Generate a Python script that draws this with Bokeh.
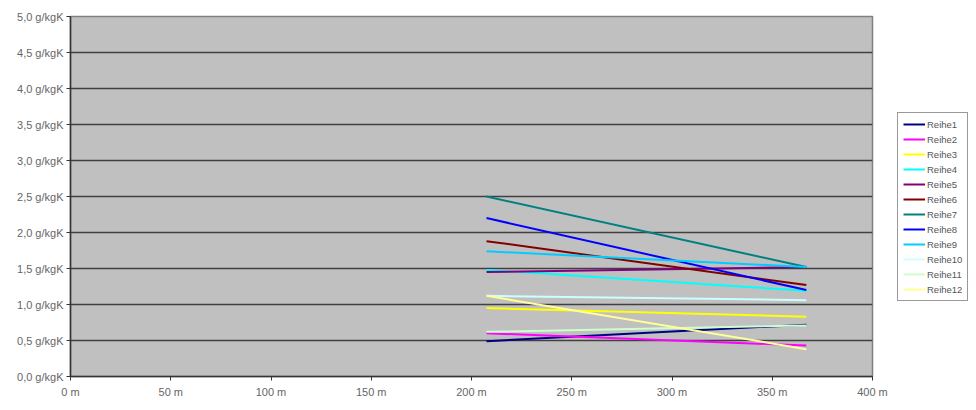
from bokeh.plotting import figure
from bokeh.models import FixedTicker, Legend, LegendItem, Label
from bokeh.layouts import row
from bokeh.embed import file_html
from bokeh.resources import INLINE

# Data
x_pos = [207.5, 367.0]
series_names = ["Reihe1", "Reihe2", "Reihe3", "Reihe4", "Reihe5", "Reihe6",
                "Reihe7", "Reihe8", "Reihe9", "Reihe10", "Reihe11", "Reihe12"]
reihe1 = [0.49, 0.72]
reihe2 = [0.60, 0.43]
reihe3 = [0.95, 0.83]
reihe4 = [1.48, 1.19]
reihe5 = [1.45, 1.52]
reihe6 = [1.88, 1.27]
reihe7 = [2.50, 1.52]
reihe8 = [2.20, 1.20]
reihe9 = [1.74, 1.52]
reihe10 = [1.12, 1.06]
reihe11 = [0.62, 0.71]
reihe12 = [1.12, 0.38]
series_values = [reihe1, reihe2, reihe3, reihe4, reihe5, reihe6,
                 reihe7, reihe8, reihe9, reihe10, reihe11, reihe12]
colors = ["#000080", "#FF00FF", "#FFFF00", "#00FFFF", "#800080", "#800000",
          "#008080", "#0000FF", "#00CCFF", "#CCFFFF", "#CCFFCC", "#FFFF99"]

y_ticks = [0.0, 0.5, 1.0, 1.5, 2.0, 2.5, 3.0, 3.5, 4.0, 4.5, 5.0]
y_tick_labels = ["0,0 g/kgK", "0,5 g/kgK", "1,0 g/kgK", "1,5 g/kgK", "2,0 g/kgK",
                 "2,5 g/kgK", "3,0 g/kgK", "3,5 g/kgK", "4,0 g/kgK", "4,5 g/kgK",
                 "5,0 g/kgK"]
x_ticks = [0, 50, 100, 150, 200, 250, 300, 350, 400]
x_tick_labels = ["0 m", "50 m", "100 m", "150 m", "200 m", "250 m", "300 m",
                 "350 m", "400 m"]

font = "Liberation Sans"

p = figure(frame_width=802, frame_height=360, x_range=(0, 400), y_range=(0, 5),
           output_backend="svg", toolbar_location=None,
           min_border_left=70, min_border_top=16, min_border_bottom=34,
           min_border_right=20)
p.background_fill_color = "#C0C0C0"
p.border_fill_color = "white"
p.outline_line_color = "#808080"
p.outline_line_width = 1.5

for ax in (p.xaxis[0], p.yaxis[0]):
    ax.axis_line_color = "#333333"
    ax.axis_line_width = 1.5
    ax.major_tick_line_color = "#333333"
    ax.minor_tick_line_color = None
    ax.major_label_text_font = font
    ax.major_label_text_font_size = "11px"
    ax.major_label_text_color = "#666666"

p.yaxis.ticker = FixedTicker(ticks=y_ticks)
p.yaxis.major_label_overrides = {t: l for t, l in zip(y_ticks, y_tick_labels)}
p.yaxis.major_tick_out = 4
p.yaxis.major_tick_in = 0
p.yaxis.major_label_standoff = 3

p.xaxis.ticker = FixedTicker(ticks=x_ticks)
p.xaxis.major_label_overrides = {t: l for t, l in zip(x_ticks, x_tick_labels)}
p.xaxis.major_tick_out = 4
p.xaxis.major_tick_in = 0
p.xaxis.major_label_standoff = 5

p.xgrid.grid_line_color = None
p.ygrid.ticker = FixedTicker(ticks=y_ticks)
p.ygrid.grid_line_color = "#404040"
p.ygrid.grid_line_width = 1.5

for name, vals, c in zip(series_names, series_values, colors):
    p.line(x_pos, vals, line_color=c, line_width=2)

p.add_layout(Label(x=795, y=-31, x_units="screen", y_units="screen",
                   text="3", text_font=font, text_font_size="7px",
                   text_color="#555555"))

# Legend panel
lg = figure(width=84, height=410, x_range=(0, 1), y_range=(0, 1),
            output_backend="svg", toolbar_location=None,
            min_border_left=0, min_border_right=0, min_border_top=0,
            min_border_bottom=0)
lg.axis.visible = False
lg.grid.grid_line_color = None
lg.outline_line_color = None
lg.background_fill_color = "white"
lg.border_fill_color = "white"

items = []
for name, c in zip(series_names, colors):
    r = lg.line([5, 6], [5, 6], line_color=c, line_width=2)
    items.append(LegendItem(label=name, renderers=[r]))

legend = Legend(items=items, location=(5, 75))
legend.label_text_font = font
legend.label_text_font_size = "9.5px"
legend.label_text_color = "#555555"
legend.glyph_width = 22
legend.glyph_height = 12
legend.label_height = 12
legend.label_standoff = 2
legend.spacing = 3
legend.padding = 5
legend.margin = 0
legend.border_line_color = "#333333"
legend.border_line_width = 1
legend.background_fill_color = "white"
lg.add_layout(legend, "center")

layout = row(p, lg, spacing=0)
open("out.html", "w").write(file_html(layout, INLINE))
